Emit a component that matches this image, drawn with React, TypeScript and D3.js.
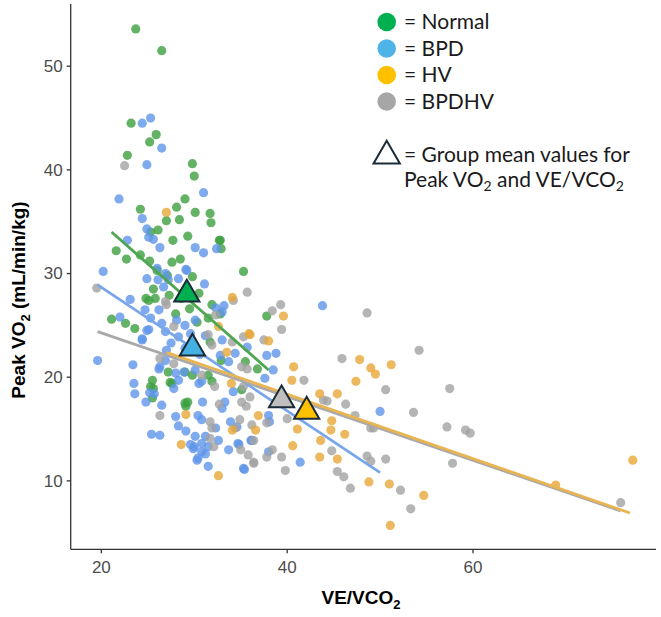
import React from "react";
import * as d3 from "d3";

const W = 661;
const H = 617;

// scatter points per group, [VE/VCO2, Peak VO2]
const normalPts: [number, number][] = [
  [23.7, 53.6], [26.5, 51.5], [23.2, 44.5], [25.9, 43.4], [25.2, 42.7], [22.8, 41.4], [29.8, 40.6], [30.0, 39.4], [29.0, 37.2],
  [24.2, 36.2], [28.1, 36.4], [27.0, 35.1], [28.4, 35.2], [30.1, 35.9], [31.7, 35.8], [31.8, 34.9], [26.1, 34.2], [25.3, 34.0],
  [29.3, 33.6], [27.7, 33.2], [32.7, 33.2], [32.9, 32.4], [21.6, 32.2], [22.7, 31.4], [24.2, 31.8], [25.2, 31.2], [27.6, 31.1],
  [28.5, 31.4], [26.0, 30.3], [27.1, 29.8], [29.8, 29.7], [24.8, 27.6], [25.6, 28.5], [35.3, 30.2], [21.1, 25.6], [22.6, 25.2],
  [23.6, 24.7], [25.1, 27.4], [25.8, 27.6], [28.0, 26.1], [31.9, 27.0], [30.5, 28.1], [31.5, 25.7], [32.8, 26.1], [31.7, 23.4],
  [25.5, 19.7], [25.3, 19.1], [25.5, 18.0], [27.6, 19.4], [27.2, 20.5], [29.0, 20.5], [29.8, 20.2], [31.5, 20.2], [31.9, 19.6],
  [32.9, 21.6], [35.5, 21.5], [29.0, 17.5], [29.3, 17.6], [35.1, 18.8], [25.6, 18.9], [27.4, 19.5], [29.1, 17.2], [37.8, 25.9],
  [36.8, 20.8], [32.8, 33.2], [28.6, 27.6], [29.5, 26.6], [30.3, 25.3], [27.3, 27.9],
];

const bpdPts: [number, number][] = [
  [24.4, 44.5], [25.3, 45.0], [26.5, 42.1], [24.9, 40.5], [31.0, 37.8], [21.9, 37.2], [24.4, 35.3], [24.9, 34.3], [25.6, 33.3],
  [26.3, 32.5], [30.1, 32.5], [31.0, 32.0], [32.4, 32.4], [22.8, 33.2], [20.2, 30.2], [29.1, 30.4], [24.9, 29.5], [26.1, 29.4],
  [27.2, 29.4], [28.3, 29.5], [26.7, 28.7], [31.1, 29.0], [23.1, 27.5], [33.2, 26.9], [32.3, 26.7], [25.1, 33.5], [26.0, 30.5],
  [26.9, 30.0], [29.2, 30.3], [24.7, 26.5], [26.2, 26.5], [25.3, 25.7], [26.5, 25.2], [28.1, 25.5], [29.0, 25.0], [30.1, 25.5],
  [25.1, 24.6], [26.9, 24.4], [24.4, 23.7], [28.3, 23.9], [33.0, 26.3], [33.0, 23.6], [22.0, 25.8], [19.6, 21.6], [23.4, 21.2],
  [23.5, 19.4], [23.6, 18.4], [24.8, 17.6], [25.2, 18.5], [25.7, 18.4], [26.5, 17.3], [26.2, 20.8], [26.9, 21.6], [28.0, 20.4],
  [28.9, 20.5], [30.1, 20.7], [30.8, 19.6], [27.8, 18.9], [30.9, 17.6], [28.0, 16.2], [28.3, 15.3], [29.1, 14.8], [30.4, 16.3],
  [30.8, 15.9], [25.4, 14.5], [26.3, 14.4], [30.1, 14.3], [29.6, 13.5], [29.9, 13.1], [31.2, 14.3], [31.5, 13.3], [30.4, 12.2],
  [31.2, 12.6], [31.5, 11.4], [32.6, 13.9], [32.3, 15.1], [33.0, 17.0], [33.3, 17.6], [33.9, 15.7], [33.7, 13.0], [34.8, 13.5],
  [35.3, 11.2], [36.2, 13.9], [34.2, 18.6], [34.4, 22.3], [33.7, 21.5], [32.8, 22.1], [30.5, 19.4], [26.3, 21.0], [28.3, 19.7],
  [24.4, 23.6], [24.9, 24.5], [30.3, 12.0], [30.8, 12.8], [30.0, 13.3], [43.8, 26.9], [50.0, 16.7], [38.8, 22.3], [37.8, 22.1],
  [38.5, 20.7], [37.6, 19.9], [38.0, 16.3], [41.4, 11.8], [36.1, 13.9], [38.0, 12.8], [35.4, 11.1], [35.7, 22.9], [34.7, 13.6],
  [30.8, 13.6], [34.6, 15.2], [38.1, 15.7], [27.5, 23.3], [29.0, 22.8], [30.6, 22.2], [31.2, 24.0], [27.0, 22.6], [29.6, 24.2],
];

const hvPts: [number, number][] = [
  [27.0, 35.9], [34.1, 27.7], [35.9, 24.2], [32.6, 24.9], [33.5, 22.4], [34.0, 19.4], [29.1, 16.4], [28.6, 13.5], [34.1, 14.9],
  [32.6, 10.5], [39.6, 25.9], [36.0, 24.1], [38.0, 23.5], [40.7, 21.0], [40.5, 19.7], [43.5, 18.4], [45.4, 18.4], [47.8, 21.7],
  [49.0, 20.9], [49.5, 20.3], [51.2, 21.2], [47.4, 19.6], [44.8, 15.8], [44.7, 14.9], [46.2, 14.5], [43.6, 13.9], [41.1, 15.0],
  [40.6, 13.4], [43.5, 12.3], [45.4, 12.1], [36.9, 16.3], [36.6, 14.9], [48.8, 9.9], [51.0, 9.7], [51.1, 5.7], [77.2, 12.0],
  [68.9, 9.6], [54.7, 8.6],
];

const bpdhvPts: [number, number][] = [
  [22.5, 40.4], [19.5, 28.6], [27.0, 27.0], [35.7, 28.2], [26.9, 27.3], [27.8, 24.9], [32.3, 26.0], [35.3, 23.9], [31.9, 23.1],
  [27.8, 21.3], [30.8, 20.2], [32.2, 19.1], [26.3, 16.3], [32.7, 17.4], [35.1, 21.0], [35.1, 17.6], [36.0, 18.1], [31.7, 15.7],
  [31.9, 15.1], [34.9, 15.9], [34.4, 15.1], [36.2, 15.4], [31.7, 14.1], [32.1, 13.3], [35.8, 12.5], [36.4, 11.7], [35.0, 13.0],
  [39.3, 27.0], [38.4, 26.4], [39.4, 24.6], [37.5, 23.6], [48.6, 26.2], [45.9, 21.8], [41.8, 19.7], [50.6, 18.8], [35.7, 20.8],
  [35.3, 19.1], [35.6, 17.2], [43.9, 17.8], [44.3, 17.7], [46.3, 17.4], [47.3, 16.3], [49.0, 15.1], [49.3, 15.1], [53.6, 16.6],
  [37.8, 15.6], [40.0, 16.0], [36.4, 13.9], [36.4, 11.8], [38.4, 13.0], [39.4, 12.3], [37.8, 12.3], [39.8, 11.0], [44.8, 12.9],
  [45.4, 10.9], [46.1, 10.4], [46.8, 9.3], [48.6, 12.4], [49.0, 11.9], [50.6, 12.1], [52.2, 9.1], [53.3, 7.3], [54.2, 22.6],
  [34.2, 27.4], [57.2, 15.2], [59.2, 14.9], [59.7, 14.6], [57.8, 11.7], [75.9, 7.9], [57.5, 18.9], [26.3, 21.8], [31.5, 24.1],
  [34.1, 23.4],
];

// linear fit end points per group
const normalFit: [number, number][] = [[21.1, 34.0], [38.0, 20.7]];
const bpdFit: [number, number][] = [[19.6, 28.9], [50.0, 10.8]];
const bpdhvFit: [number, number][] = [[19.6, 24.4], [75.9, 7.1]];
const hvFit: [number, number][] = [[27.0, 22.4], [76.9, 6.9]];

// group means
const normalMean: [number, number] = [29.2, 28.0];
const bpdMean: [number, number] = [29.8, 22.8];
const bpdhvMean: [number, number] = [39.4, 17.8];
const hvMean: [number, number] = [42.1, 16.7];

const xTicks = [20, 40, 60];
const yTicks = [10, 20, 30, 40, 50];

const legendLabels = ["= Normal", "= BPD", "= HV", "= BPDHV"];
const legendColors = ["#00b050", "#4eb3e6", "#ffc000", "#a6a6a6"];

const groups = [
  { pts: normalPts, fit: normalFit, mean: normalMean, dot: "#3c9f40", line: "#4ea650", tri: "#00b050" },
  { pts: bpdPts, fit: bpdFit, mean: bpdMean, dot: "#5f95e8", line: "#78a6ea", tri: "#45b0e2" },
  { pts: bpdhvPts, fit: bpdhvFit, mean: bpdhvMean, dot: "#a3a3a3", line: "#a9a9a9", tri: "#bfbfbf" },
  { pts: hvPts, fit: hvFit, mean: hvMean, dot: "#e8a838", line: "#e9b452", tri: "#ffc000" },
];

const axisFont = "'Liberation Sans', Arial, sans-serif";
const legendFont = "Lato, 'Open Sans', sans-serif";

export default function App() {
  const x = d3.scaleLinear().domain([16.7, 79.7]).range([70.7, 656]);
  const y = d3.scaleLinear().domain([3.4, 56]).range([549.3, 4]);
  const line = d3.line<[number, number]>().x((d) => x(d[0])).y((d) => y(d[1]));
  const tri = d3.symbol().type(d3.symbolTriangle).size(275)();
  const legTri = d3.symbol().type(d3.symbolTriangle).size(300)();

  const [x0, x1] = x.range();
  const [y0, y1] = y.range();

  return (
    <svg width={W} height={H} style={{ position: "absolute", left: 0, top: 0, background: "#fff" }}>
      {/* points: draw each group in turn */}
      {groups.map((g, gi) => (
        <g key={"p" + gi} fill={g.dot} fillOpacity={0.8}>
          {g.pts.map((d, i) => (
            <circle key={i} cx={x(d[0])} cy={y(d[1])} r={4.6} />
          ))}
        </g>
      ))}

      {/* fitted lines */}
      {groups.map((g, gi) => (
        <path key={"l" + gi} d={line(g.fit) ?? ""} fill="none" stroke={g.line} strokeWidth={2.8} />
      ))}

      {/* mean triangles */}
      {groups.map((g, gi) => (
        <path
          key={"t" + gi}
          d={tri ?? ""}
          transform={`translate(${x(g.mean[0])},${y(g.mean[1])})`}
          fill={g.tri}
          stroke="#1b2b38"
          strokeWidth={2}
          strokeLinejoin="miter"
        />
      ))}

      {/* axes */}
      <g stroke="#333" strokeWidth={1.3}>
        <line x1={x0} x2={x0} y1={y1} y2={y0} />
        <line x1={x0} x2={x1} y1={y0} y2={y0} />
        {yTicks.map((t) => (
          <line key={t} x1={x0 - 4} x2={x0} y1={y(t)} y2={y(t)} />
        ))}
        {xTicks.map((t) => (
          <line key={t} x1={x(t)} x2={x(t)} y1={y0} y2={y0 + 4} />
        ))}
      </g>
      <g fontFamily={axisFont} fontSize={17} fill="#4d4d4d">
        {yTicks.map((t) => (
          <text key={t} x={x0 - 8} y={y(t)} dy="0.35em" textAnchor="end">
            {t}
          </text>
        ))}
        {xTicks.map((t) => (
          <text key={t} x={x(t)} y={y0 + 24} textAnchor="middle">
            {t}
          </text>
        ))}
      </g>

      {/* axis titles */}
      <text x={361} y={604} textAnchor="middle" fontFamily={axisFont} fontWeight="bold" fontSize={19} fill="#000">
        VE/VCO<tspan fontSize={13} dy={5}>2</tspan>
      </text>
      <text
        transform="translate(25,300) rotate(-90)"
        textAnchor="middle"
        fontFamily={axisFont}
        fontWeight="bold"
        fontSize={19}
        fill="#000"
      >
        Peak VO<tspan fontSize={13} dy={5}>2</tspan>
        <tspan dy={-5}> (mL/min/kg)</tspan>
      </text>

      {/* legend */}
      <g fontFamily={legendFont} fontSize={21} fill="#1a1a1a">
        {legendLabels.map((s, i) => (
          <g key={s}>
            <circle cx={386.7} cy={22 + i * 26.5} r={9.3} fill={legendColors[i]} />
            <text x={404} y={29.3 + i * 26.5}>{s}</text>
          </g>
        ))}
        <path
          d={legTri ?? ""}
          transform="translate(386.7,156)"
          fill="#fff"
          stroke="#1b2b38"
          strokeWidth={2}
        />
        <text x={404} y={161.7}>= Group mean values for</text>
        <text x={404} y={186.7}>
          Peak VO<tspan fontSize={14} dy={4}>2</tspan>
          <tspan dy={-4}> and VE/VCO</tspan>
          <tspan fontSize={14} dy={4}>2</tspan>
        </text>
      </g>
    </svg>
  );
}
